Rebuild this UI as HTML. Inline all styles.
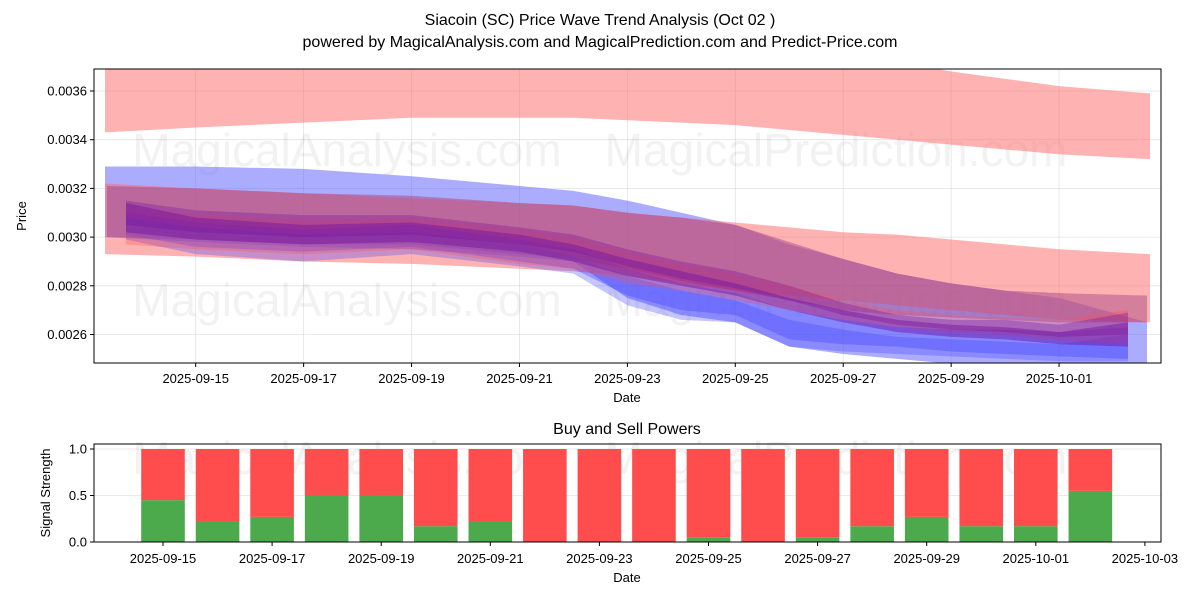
<!DOCTYPE html>
<html><head><meta charset="utf-8"><style>
body{margin:0;background:#fff;width:1200px;height:600px;overflow:hidden}
svg{font-family:"Liberation Sans","DejaVu Sans",sans-serif}
</style></head><body>
<svg id="c" width="1200" height="600" xmlns="http://www.w3.org/2000/svg">
<text x="600" y="25" text-anchor="middle" font-size="16">Siacoin (SC) Price Wave Trend Analysis (Oct 02 )</text>
<text x="600" y="47" text-anchor="middle" font-size="16">powered by MagicalAnalysis.com and MagicalPrediction.com and Predict-Price.com</text>
<g id="topPanel"></g>
<g id="botPanel"></g>
</svg>
<script>
// ---- price panel data (values in 1e-3 units) ----
const bandDays = [13.5,15,17,19,21,22,23,24,25,26,27,28,29,30,31,32.2];
const bandAUpper = [3.75,3.75,3.75,3.75,3.75,3.75,3.75,3.75,3.75,3.75,3.75,3.72,3.68,3.65,3.62,3.59];
const bandALower = [3.43,3.45,3.47,3.49,3.49,3.49,3.48,3.47,3.46,3.44,3.42,3.40,3.38,3.36,3.34,3.32];
const bandBUpper = [3.22,3.20,3.18,3.16,3.14,3.13,3.10,3.08,3.06,3.04,3.02,3.01,2.99,2.97,2.95,2.93];
const bandBLower = [2.93,2.92,2.90,2.89,2.87,2.86,2.84,2.81,2.78,2.76,2.74,2.72,2.70,2.68,2.66,2.65];
const bandCUpper = [3.29,3.29,3.28,3.25,3.21,3.19,3.15,3.10,3.05,2.97,2.91,2.85,2.81,2.78,2.75,2.65];
const bandCLower = [3.00,2.98,2.96,2.95,2.92,2.90,2.75,2.68,2.65,2.55,2.52,2.50,2.48,2.47,2.46,2.45];
const bandDUpper = [3.21,3.20,3.18,3.17,3.14,3.13,3.10,3.08,3.05,2.98,2.91,2.85,2.81,2.78,2.77,2.76];
const bandDLower = [3.00,2.99,2.97,2.97,2.93,2.91,2.87,2.82,2.78,2.74,2.70,2.68,2.67,2.66,2.65,2.65];
const inner1Upper = [3.14,3.08,3.05,3.06,3.01,2.97,2.91,2.86,2.81,2.75,2.70,2.66,2.64,2.63,2.61,2.65];
const inner1Lower = [3.02,2.99,2.97,2.98,2.94,2.90,2.84,2.80,2.76,2.70,2.65,2.61,2.59,2.58,2.56,2.55];
const inner2Upper = [3.10,3.06,3.03,3.05,2.99,2.95,2.87,2.81,2.77,2.70,2.66,2.63,2.62,2.62,2.61,2.63];
const inner2Lower = [3.01,2.96,2.94,2.96,2.90,2.87,2.76,2.70,2.68,2.58,2.56,2.55,2.53,2.52,2.51,2.50];
const inner3Upper = [3.08,3.04,3.01,3.02,2.97,2.92,2.84,2.78,2.74,2.66,2.62,2.59,2.58,2.57,2.56,2.60];
const inner3Lower = [2.99,2.93,2.90,2.93,2.88,2.85,2.72,2.66,2.65,2.55,2.53,2.52,2.51,2.50,2.49,2.49];
const inner4Upper = [3.12,3.09,3.07,3.08,3.03,3.00,2.94,2.89,2.85,2.80,2.74,2.70,2.68,2.67,2.66,2.70];
const inner4Lower = [2.97,2.95,2.93,2.95,2.89,2.87,2.81,2.78,2.74,2.70,2.66,2.63,2.61,2.60,2.58,2.56];
const inner5Upper = [3.15,3.11,3.09,3.09,3.04,3.01,2.95,2.90,2.86,2.80,2.73,2.68,2.66,2.66,2.64,2.69];
const inner5Lower = [3.05,3.02,3.00,3.01,2.97,2.94,2.88,2.83,2.79,2.74,2.68,2.64,2.62,2.61,2.59,2.60];
const yTicks = [2.6,2.8,3.0,3.2,3.4,3.6];
const yTickLabels = ["0.0026","0.0028","0.0030","0.0032","0.0034","0.0036"];
const xTickDays = [15,17,19,21,23,25,27,29,31];
const xTickLabels = ["2025-09-15","2025-09-17","2025-09-19","2025-09-21","2025-09-23","2025-09-25","2025-09-27","2025-09-29","2025-10-01"];
// ---- signal panel data ----
const barDays = [15,16,17,18,19,20,21,22,23,24,25,26,27,28,29,30,31,32];
const buyPower = [0.45,0.22,0.27,0.5,0.5,0.17,0.22,0,0,0,0.05,0,0.05,0.17,0.27,0.17,0.17,0.55];
const sellPower = [0.55,0.78,0.73,0.5,0.5,0.83,0.78,1,1,1,0.95,1,0.95,0.83,0.73,0.83,0.83,0.45];
const botTickDays = [15,17,19,21,23,25,27,29,31,33];
const botTickLabels = ["2025-09-15","2025-09-17","2025-09-19","2025-09-21","2025-09-23","2025-09-25","2025-09-27","2025-09-29","2025-10-01","2025-10-03"];
const sigTicks = [0,0.5,1];
const sigTickLabels = ["0.0","0.5","1.0"];

const NS="http://www.w3.org/2000/svg";
function mk(p,t,a){const e=document.createElementNS(NS,t);for(const k in a)e.setAttribute(k,a[k]);p.appendChild(e);return e;}
const L=94,R=1161,T=69,B=363;
const xS=d=>195.7+(d-15)*53.96;
const yS=v=>91+(3.6-v)*243.5;
const topG=document.getElementById('topPanel');
mk(topG,'defs',{}).innerHTML='<clipPath id="cp"><rect x="94" y="69" width="1067" height="294"/></clipPath><clipPath id="cp2"><rect x="94" y="444" width="1067" height="98"/></clipPath>';
xTickDays.forEach(d=>{const g=mk(topG,'line',{x1:xS(d),x2:xS(d),y1:T,y2:B,stroke:'#b0b0b0','stroke-opacity':0.35,'stroke-width':0.8});

});
yTicks.forEach(v=>{const g=mk(topG,'line',{x1:L,x2:R,y1:yS(v),y2:yS(v),stroke:'#b0b0b0','stroke-opacity':0.35,'stroke-width':0.8});

});
[[347,150,'MagicalAnalysis.com'],[836,150,'MagicalPrediction.com'],[347,300,'MagicalAnalysis.com'],[836,300,'MagicalPrediction.com'],[347,458,'MagicalAnalysis.com'],[836,458,'MagicalPrediction.com']].forEach(w=>{
const t=mk(topG,'text',{x:w[0],y:w[1]+16,'text-anchor':'middle','font-size':46,fill:'#808080','fill-opacity':0.1});t.textContent=w[2];

});
const g=mk(topG,'g',{'clip-path':'url(#cp)'});
function band(up,lo,x0,x1,fill,op,name){
 const xs=bandDays.map((d,i)=>i==0?x0:(i==bandDays.length-1?x1:xS(d)));
 let p='M'+xs.map((x,i)=>x+','+yS(up[i])).join(' L');
 for(let i=xs.length-1;i>=0;i--)p+=' L'+xs[i]+','+yS(lo[i]);
 const e=mk(g,'path',{d:p+'Z',fill:fill,'fill-opacity':op});
 
 
}
band(bandAUpper,bandALower,105,1150,'#ff6666',0.5,'upper-red-band');
band(bandCUpper,bandCLower,105,1147,'#5a5aff',0.5,'blue-wide-band');
band(bandBUpper,bandBLower,105,1150,'#ff6666',0.5,'lower-red-band');
band(bandDUpper,bandDLower,107,1147,'#a04080',0.45,'mauve-band');
band(inner3Upper,inner3Lower,126,1128,'#4040ff',0.3,'inner-blue-band-2');
band(inner2Upper,inner2Lower,126,1128,'#4040ff',0.35,'inner-blue-band-1');
band(inner4Upper,inner4Lower,126,1128,'#ff5050',0.3,'inner-red-band');
band(inner5Upper,inner5Lower,126,1128,'#8020a0',0.4,'inner-purple-band');
band(inner1Upper,inner1Lower,126,1128,'#7010a0',0.45,'center-purple-band');
mk(topG,'rect',{x:L,y:T,width:R-L,height:B-T,fill:'none',stroke:'#000','stroke-width':1});
yTicks.forEach((v,i)=>{mk(topG,'line',{x1:L-4,x2:L,y1:yS(v),y2:yS(v),stroke:'#000'});
const t=mk(topG,'text',{x:L-7,y:yS(v)+4.5,'text-anchor':'end','font-size':13});t.textContent=yTickLabels[i];

});
xTickDays.forEach((d,i)=>{mk(topG,'line',{x1:xS(d),x2:xS(d),y1:B,y2:B+4,stroke:'#000'});
const t=mk(topG,'text',{x:xS(d),y:B+20,'text-anchor':'middle','font-size':13});t.textContent=xTickLabels[i];

});
let t=mk(topG,'text',{x:627,y:402,'text-anchor':'middle','font-size':13});t.textContent='Date';


t=mk(topG,'text',{x:0,y:0,'text-anchor':'middle','font-size':13,transform:'translate(26,216) rotate(-90)'});t.textContent='Price';



const botG=document.getElementById('botPanel');
const BT=444,BB=542;
const bx=d=>163+(d-15)*54.55;
const byS=v=>542-v*93;
sigTicks.forEach(v=>{const l=mk(botG,'line',{x1:L,x2:R,y1:byS(v),y2:byS(v),stroke:'#b0b0b0','stroke-opacity':0.35,'stroke-width':0.8});

});
const bg=mk(botG,'g',{'clip-path':'url(#cp2)'});
barDays.forEach((d,i)=>{
 const w=43.6,x=bx(d)-w/2;
 const r1=mk(bg,'rect',{x:x,y:byS(buyPower[i]),width:w,height:byS(0)-byS(buyPower[i]),fill:'#4caa4c'});
 
 
 const r2=mk(bg,'rect',{x:x,y:byS(buyPower[i]+sellPower[i]),width:w,height:byS(buyPower[i])-byS(buyPower[i]+sellPower[i]),fill:'#ff4c4c'});
 
 
});
mk(botG,'rect',{x:L,y:BT,width:R-L,height:BB-BT,fill:'none',stroke:'#000','stroke-width':1});
sigTicks.forEach((v,i)=>{mk(botG,'line',{x1:L-4,x2:L,y1:byS(v),y2:byS(v),stroke:'#000'});
const s=mk(botG,'text',{x:L-7,y:byS(v)+4.5,'text-anchor':'end','font-size':13});s.textContent=sigTickLabels[i];

});
botTickDays.forEach((d,i)=>{mk(botG,'line',{x1:bx(d),x2:bx(d),y1:BB,y2:BB+4,stroke:'#000'});
const s=mk(botG,'text',{x:bx(d),y:BB+21,'text-anchor':'middle','font-size':13});s.textContent=botTickLabels[i];

});
t=mk(botG,'text',{x:627,y:434,'text-anchor':'middle','font-size':16});t.textContent='Buy and Sell Powers';


t=mk(botG,'text',{x:627,y:582,'text-anchor':'middle','font-size':13});t.textContent='Date';


t=mk(botG,'text',{x:0,y:0,'text-anchor':'middle','font-size':13,transform:'translate(50,493) rotate(-90)'});t.textContent='Signal Strength';


</script>
</body></html>
